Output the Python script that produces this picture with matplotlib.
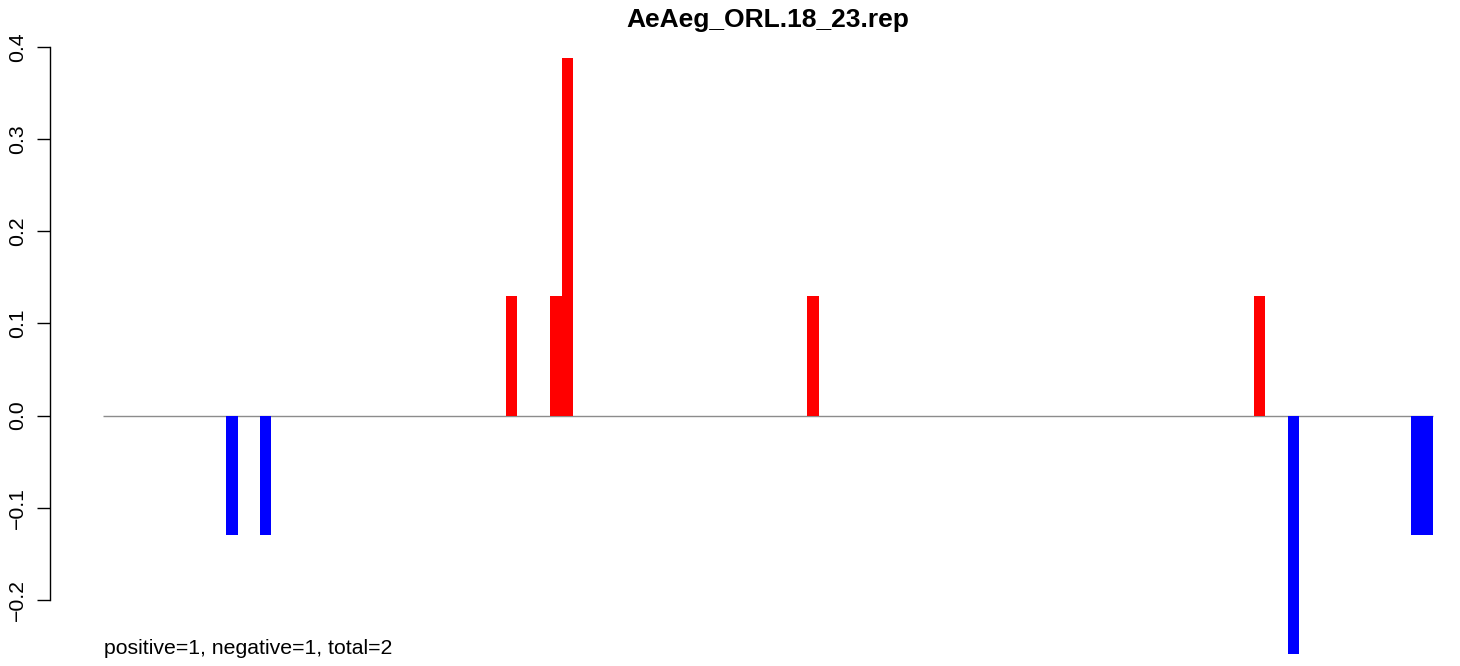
import numpy as np
import matplotlib
matplotlib.use("Agg")
import matplotlib.pyplot as plt

# 119 bins along the sequence, only a few carry a score
n_bins = 119
pos_idx = [36, 40, 41, 63, 103]
pos_vals = [0.1294, 0.1294, 0.3882, 0.1294, 0.1294]
neg_idx = [11, 14, 106, 117, 118]
neg_vals = [-0.1294, -0.1294, -0.2588, -0.1294, -0.1294]

title = "AeAeg_ORL.18_23.rep"
note = "positive=1, negative=1, total=2"
yticks = [-0.2, -0.1, 0.0, 0.1, 0.2, 0.3, 0.4]

plt.rcParams['font.family'] = ['Liberation Sans', 'DejaVu Sans']

W, H = 1460, 666
fig = plt.figure(figsize=(W / 100, H / 100), dpi=100)

# plot region in pixels (R-like margins, x extended 4% each side)
xlim = (-0.04 * n_bins, n_bins * 1.04)
ylim = (-0.27, 0.42)
px_left, px_right = 50.3, 1486.2
px_top = 415.5 - ylim[1] * 921
px_bot = 415.5 - ylim[0] * 921
ax = fig.add_axes([px_left / W, 1 - px_bot / H, (px_right - px_left) / W, (px_bot - px_top) / H])

ax.bar(pos_idx, pos_vals, width=1, align='edge', color='#ff0000', linewidth=0, zorder=3)
ax.bar(neg_idx, neg_vals, width=1, align='edge', color='#0000ff', linewidth=0, zorder=3)
ax.hlines(0, 0, n_bins, color='#8c8c8c', linewidth=1, zorder=2)

ax.set_xlim(*xlim)
ax.set_ylim(*ylim)

for s in ['top', 'right', 'bottom']:
    ax.spines[s].set_visible(False)
ax.spines['left'].set_bounds(-0.2, 0.4)
ax.spines['left'].set_linewidth(1.0)
ax.set_xticks([])
ax.set_yticks(yticks)
ax.set_yticklabels([f"{v:.1f}".replace("-", "\u2212") for v in yticks],
                   rotation=90, va='center', fontsize=15.3)
ax.tick_params(axis='y', length=9.5, width=1.0, pad=7)
ax.patch.set_visible(False)

fig.text(768 / W, 1 - 20 / H, title, ha='center', va='center',
         fontsize=19, fontweight='bold')
fig.text(104 / W, 1 - 649 / H, note, ha='left', va='center', fontsize=15.3)

fig.savefig("out.png", dpi=100)
